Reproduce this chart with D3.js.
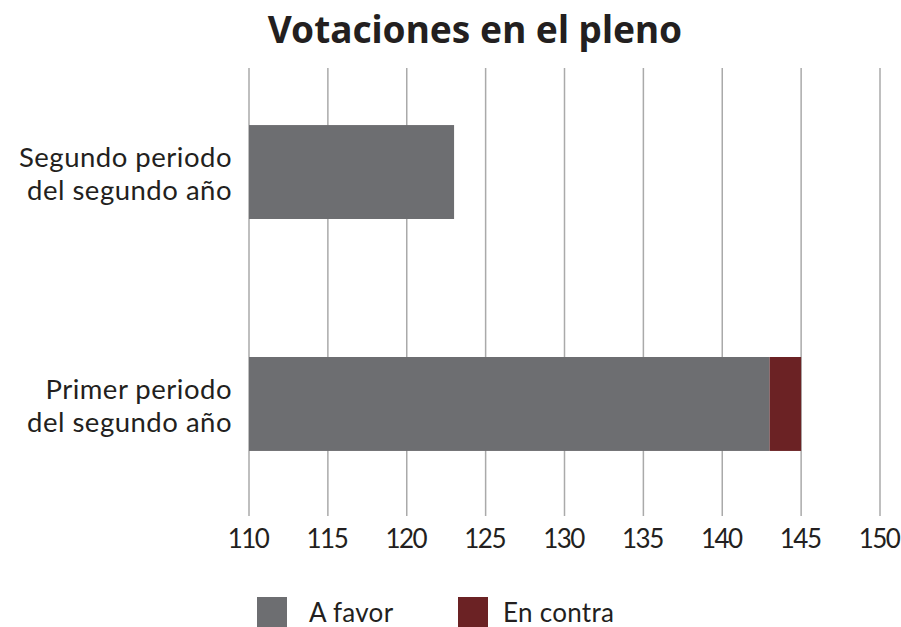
<!DOCTYPE html>
<meta charset="utf-8">
<style>
  body { margin: 0; background: #fff; overflow: hidden; }
  .title { font: 700 37px "Noto Sans", sans-serif; fill: #231f20; }
  .cat text { font: 27.5px Lato, sans-serif; fill: #231f20; letter-spacing: 0.5px; }
  .tick text { font: 26px Lato, sans-serif; fill: #231f20; letter-spacing: -1.5px; }
  .legend text { font: 26px Lato, sans-serif; fill: #231f20; letter-spacing: 0.3px; }
  .grid line { stroke: #aaa; stroke-width: 1.5px; }
</style>
<body>
<script src="https://d3js.org/d3.v7.min.js"></script>
<script>
  // data
  var categories = [["Segundo periodo", "del segundo año"], ["Primer periodo", "del segundo año"]];
  var aFavor = [123, 143];
  var enContra = [0, 2];
  var seriesNames = ["A favor", "En contra"];
  var colors = ["#6d6e71", "#6b2224"];
  var ticks = [110, 115, 120, 125, 130, 135, 140, 145, 150];

  var svg = d3.select("body").append("svg")
    .attr("width", 901).attr("height", 627);

  var x = d3.scaleLinear().domain([110, 150]).range([249, 880]);
  var y = d3.scaleBand().domain(d3.range(categories.length))
    .range([68, 508]).paddingInner(0.595).paddingOuter(0.246);

  svg.append("text").attr("class", "title")
    .attr("x", 475).attr("y", 43).attr("text-anchor", "middle")
    .text("Votaciones en el pleno");

  // gridlines
  svg.append("g").attr("class", "grid")
    .selectAll("line").data(ticks).enter().append("line")
    .attr("x1", d => x(d)).attr("x2", d => x(d))
    .attr("y1", 68).attr("y2", 516);

  // stacked bars
  var rows = categories.map((c, i) => ({ i: i, a: aFavor[i], c: enContra[i] }));
  var g = svg.append("g");
  g.selectAll(".fav").data(rows).enter().append("rect")
    .attr("x", x(110)).attr("y", d => y(d.i))
    .attr("width", d => x(d.a) - x(110)).attr("height", y.bandwidth())
    .attr("fill", colors[0]);
  g.selectAll(".con").data(rows.filter(d => d.c > 0)).enter().append("rect")
    .attr("x", d => x(d.a)).attr("y", d => y(d.i))
    .attr("width", d => x(d.a + d.c) - x(d.a)).attr("height", y.bandwidth())
    .attr("fill", colors[1]);

  // x axis labels
  svg.append("g").attr("class", "tick")
    .selectAll("text").data(ticks).enter().append("text")
    .attr("x", d => x(d) - 1).attr("y", 548).attr("text-anchor", "middle")
    .text(d => d);

  // category labels
  var cat = svg.append("g").attr("class", "cat")
    .selectAll("text").data(categories).enter().append("text")
    .attr("text-anchor", "end")
    .attr("transform", (d, i) => "translate(232," + (y(i) + y.bandwidth() / 2) + ")");
  cat.selectAll("tspan").data(d => d).enter().append("tspan")
    .attr("x", 0).attr("y", (d, j) => j === 0 ? -5 : 28)
    .text(d => d);

  // legend
  var legX = [257, 458];
  var leg = svg.append("g").attr("class", "legend")
    .selectAll("g").data(seriesNames).enter().append("g")
    .attr("transform", (d, i) => "translate(" + legX[i] + ",597)");
  leg.append("rect").attr("width", 30).attr("height", 30).attr("fill", (d, i) => colors[i]);
  leg.append("text").attr("x", (d, i) => i === 0 ? 52 : 45).attr("y", 25).text(d => d);
</script>
</body>
